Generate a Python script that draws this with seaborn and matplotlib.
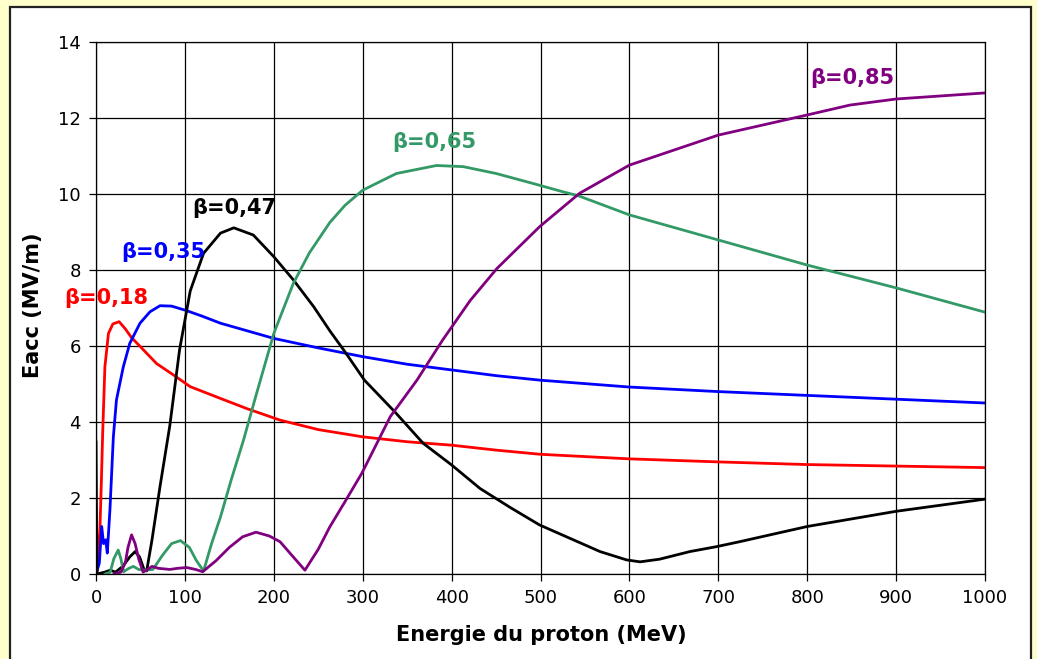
import numpy as np
import pandas as pd
import matplotlib
matplotlib.use("Agg")
import matplotlib.pyplot as plt
import seaborn as sns
from matplotlib.patches import Rectangle

# ---- data ----
series_names = ["β=0,18", "β=0,35", "β=0,47", "β=0,65", "β=0,85"]
series_colors = ["#FF0000", "#0000FF", "#000000", "#339966", "#800080"]

e_018 = [0, 1.5, 3, 4.5, 6, 7.5, 10, 14, 19, 26, 33, 40, 50, 68, 87, 106, 140, 170,
         207, 250, 300, 350, 400, 450, 500, 600, 700, 800, 900, 1000]
v_018 = [0, 0.1, 0.7, 1.25, 2.4, 3.7, 5.45, 6.33, 6.58, 6.64, 6.45, 6.22, 5.98, 5.54,
         5.24, 4.93, 4.62, 4.35, 4.05, 3.8, 3.61, 3.48, 3.39, 3.26, 3.15, 3.03, 2.95,
         2.88, 2.84, 2.8]

e_035 = [0, 3.7, 6.4, 8.5, 10.9, 12.7, 15.7, 19.5, 23, 30.7, 38, 49.5, 60.7, 72, 85,
         102, 120, 140, 170, 200, 250, 300, 350, 400, 450, 500, 600, 700, 800, 900, 1000]
v_035 = [0, 0.28, 1.25, 0.8, 0.9, 0.55, 1.7, 3.6, 4.58, 5.45, 6.07, 6.6, 6.9, 7.06,
         7.05, 6.93, 6.78, 6.6, 6.4, 6.2, 5.95, 5.72, 5.52, 5.37, 5.22, 5.1, 4.92, 4.8,
         4.7, 4.6, 4.5]

e_047 = [0, 1, 10, 16, 22, 30, 38, 44, 49, 54, 57, 63, 72, 83, 94, 106, 121, 140, 155,
         177, 200, 222, 245, 263, 280, 302, 336, 368, 400, 432, 466, 499, 533, 567, 597,
         612, 634, 668, 698, 724, 800, 900, 1000]
v_047 = [3.5, 0, 0.05, 0.1, 0.05, 0.2, 0.45, 0.59, 0.45, 0.12, 0.08, 0.9, 2.3, 3.9,
         5.9, 7.45, 8.44, 8.97, 9.11, 8.92, 8.35, 7.74, 7.03, 6.4, 5.85, 5.1, 4.27, 3.44,
         2.87, 2.25, 1.75, 1.29, 0.94, 0.59, 0.37, 0.32, 0.39, 0.59, 0.72, 0.85, 1.25,
         1.65, 1.97]

e_065 = [10, 16, 20, 25, 28, 31, 37, 42, 48, 55, 64, 75, 85, 95, 105, 113, 121, 130,
         140, 152, 166, 180, 200, 222, 240, 263, 280, 300, 338, 383, 413, 450, 488, 525,
         543, 600, 700, 800, 900, 1000]
v_065 = [0, 0.05, 0.4, 0.63, 0.4, 0.06, 0.15, 0.2, 0.12, 0.1, 0.12, 0.5, 0.8, 0.88,
         0.7, 0.35, 0.08, 0.8, 1.5, 2.47, 3.53, 4.7, 6.33, 7.65, 8.45, 9.25, 9.7, 10.1,
         10.54, 10.75, 10.72, 10.54, 10.3, 10.06, 9.95, 9.45, 8.79, 8.13, 7.53, 6.89]

e_085 = [20, 28, 33, 36, 40, 44, 48, 53, 58, 63, 70, 83, 92, 102, 112, 120, 135, 150,
         165, 180, 195, 207, 220, 235, 250, 263, 280, 299, 331, 361, 390, 421, 451, 499,
         544, 600, 700, 800, 848, 900, 1000]
v_085 = [0, 0.05, 0.3, 0.7, 1.03, 0.8, 0.4, 0.05, 0.12, 0.2, 0.15, 0.12, 0.15, 0.17,
         0.12, 0.06, 0.35, 0.7, 0.98, 1.1, 1.0, 0.85, 0.5, 0.1, 0.65, 1.24, 1.9, 2.65,
         4.14, 5.1, 6.16, 7.2, 8.04, 9.14, 10.02, 10.76, 11.55, 12.08, 12.34, 12.5, 12.66]

x_ticks = list(range(0, 1001, 100))
y_ticks = list(range(0, 15, 2))
x_label = "Energie du proton (MeV)"
y_label = "Eacc (MV/m)"

# label anchor positions (data coords)
label_pos = [(12, 7.26), (76, 8.47), (155, 9.63), (381, 11.37), (851, 13.05)]

# ---- build table ----
frames = []
for name, e, v in zip(series_names,
                      [e_018, e_035, e_047, e_065, e_085],
                      [v_018, v_035, v_047, v_065, v_085]):
    frames.append(pd.DataFrame({"E": e, "V": v, "serie": name}))
df = pd.concat(frames, ignore_index=True)

sns.set_theme(style="white")
plt.rcParams['font.family'] = ['DejaVu Sans']
plt.rcParams['text.color'] = 'black'

fig = plt.figure(figsize=(10.37, 6.59), dpi=100)
fig.patch.set_facecolor('#FFFFCC')
fig.add_artist(Rectangle((10 / 1037, -0.05), 1021 / 1037, 1.05 - 7 / 659,
                         transform=fig.transFigure, facecolor='white',
                         edgecolor='#222222', linewidth=1.6, zorder=0))

ax = fig.add_axes([96 / 1037, 1 - 574 / 659, 889 / 1037, 532 / 659])
ax.set_facecolor('white')

sns.lineplot(data=df, x="E", y="V", hue="serie", hue_order=series_names,
             palette=series_colors, estimator=None, sort=False, linewidth=2.0,
             legend=False, ax=ax)

ax.set_xlim(0, 1000)
ax.set_ylim(0, 14)
ax.set_xticks(x_ticks)
ax.set_yticks(y_ticks)
ax.set_xticklabels([str(t) for t in x_ticks])
ax.set_yticklabels([str(t) for t in y_ticks])
ax.grid(True, color='black', linewidth=0.9)
ax.set_axisbelow(True)
ax.tick_params(axis='both', direction='out', length=5, width=0.9, color='black',
               labelsize=13, labelcolor='black', pad=6)
ax.tick_params(left=True, bottom=True)
for s in ax.spines.values():
    s.set_color('black')
    s.set_linewidth(0.9)
ax.set_xlabel("")
ax.set_ylabel("")

for name, col, (px, py) in zip(series_names, series_colors, label_pos):
    ax.text(px, py, name, color=col, fontsize=15, fontweight='bold',
            ha='center', va='center')

fig.text(541 / 1037, 1 - 635 / 659, x_label, fontsize=15, fontweight='bold',
         ha='center', va='center', color='black')
fig.text(33 / 1037, 1 - 305 / 659, y_label, fontsize=15, fontweight='bold',
         ha='center', va='center', rotation=90, color='black')

fig.savefig("out.png", dpi=100, facecolor=fig.get_facecolor())
